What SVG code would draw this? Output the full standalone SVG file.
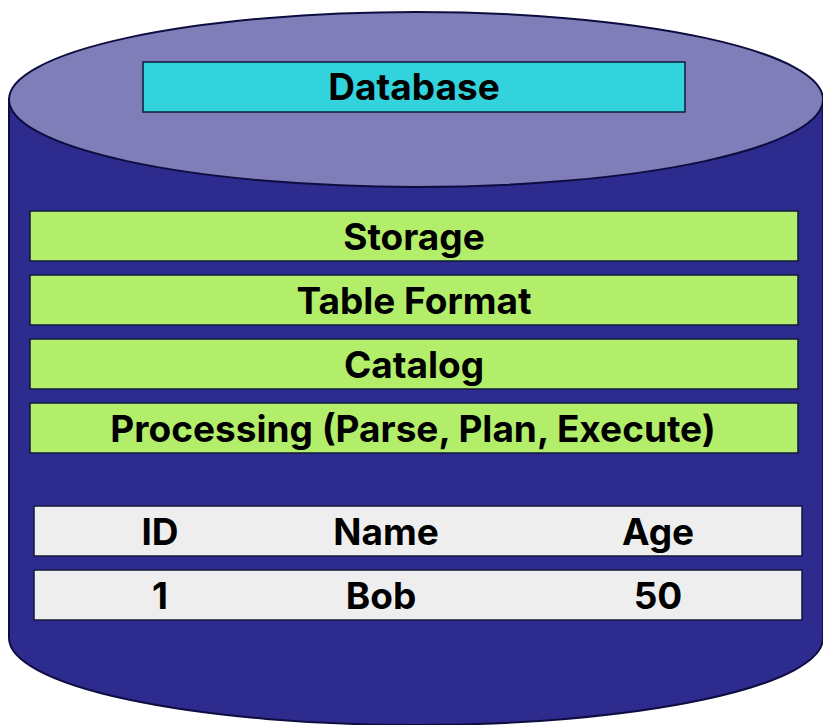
<svg xmlns="http://www.w3.org/2000/svg" width="823" height="725" viewBox="0 0 823 725">
<style>
.t{font-family:Inter,"Liberation Sans",sans-serif;font-weight:700;fill:#000;text-anchor:middle;font-size:37px}
.bar{fill:#B2EE6A;stroke:#0F1A3A;stroke-width:1.5}
.row{fill:#EEEEEE;stroke:#0F1A3A;stroke-width:1.5}
</style>
<g id="cylinder">
<path d="M9,99 L9,638 A407,87 0 0 0 823,638 L823,99 Z" fill="#2E2B8F" stroke="#0D0D40" stroke-width="2"/>
<ellipse cx="416" cy="99.5" rx="407" ry="87.5" fill="#7F7EB8" stroke="#0D0D40" stroke-width="2"/>
</g>
<g id="database">
<rect x="143" y="62" width="542" height="50" fill="#32D3DC" stroke="#0F1A3A" stroke-width="1.5"/>
<text class="t" x="414" y="100">Database</text>
</g>
<g id="storage">
<rect class="bar" x="30" y="211" width="768" height="50"/>
<text class="t" x="414" y="249.5">Storage</text>
</g>
<g id="table-format">
<rect class="bar" x="30" y="275" width="768" height="50"/>
<text class="t" x="414" y="313.5">Table Format</text>
</g>
<g id="catalog">
<rect class="bar" x="30" y="339" width="768" height="50"/>
<text class="t" x="414" y="377.5">Catalog</text>
</g>
<g id="processing">
<rect class="bar" x="30" y="403" width="768" height="50"/>
<text class="t" x="413" y="441.5">Processing (Parse, Plan, Execute)</text>
</g>
<g id="header-row">
<rect class="row" x="34" y="506" width="768" height="50"/>
<text class="t" x="160" y="544.5">ID</text>
<text class="t" x="386" y="544.5">Name</text>
<text class="t" x="658" y="544.5">Age</text>
</g>
<g id="data-row">
<rect class="row" x="34" y="570" width="768" height="50"/>
<text class="t" x="160" y="608.5">1</text>
<text class="t" x="381" y="608.5">Bob</text>
<text class="t" x="658" y="608.5">50</text>
</g>
<g id="connectors"/>
</svg>
